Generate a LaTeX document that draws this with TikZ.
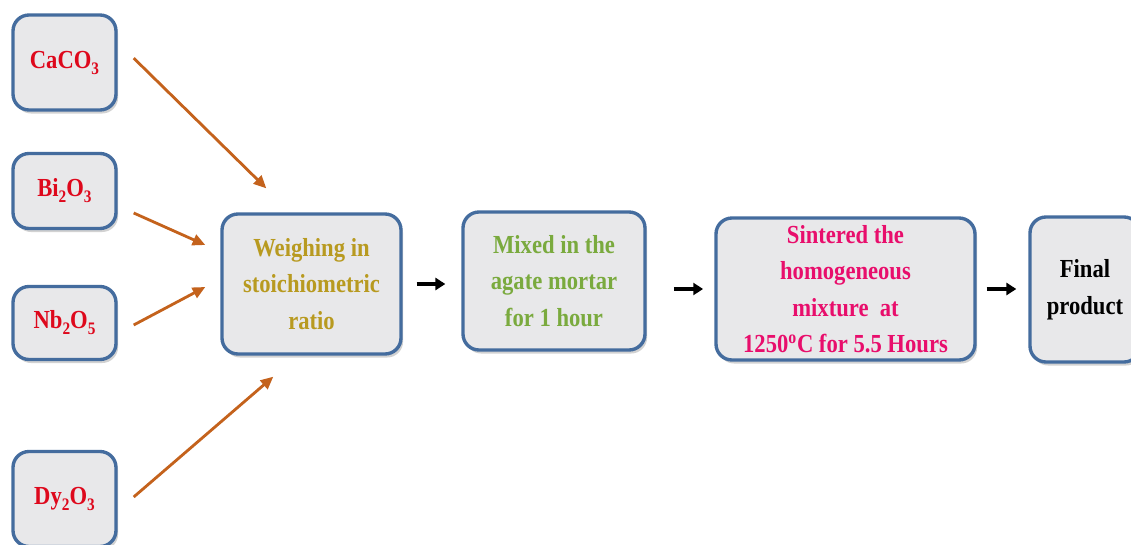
\documentclass[tikz,border=0pt]{standalone}
\usepackage{fontspec}
\setmainfont{Liberation Serif}[FakeStretch=0.87]
\usetikzlibrary{arrows.meta,shadows,calc}
\definecolor{boxline}{RGB}{68,108,158}
\definecolor{boxfill}{RGB}{232,232,234}
\definecolor{feedline}{RGB}{196,98,28}
\definecolor{oxred}{RGB}{222,8,28}
\definecolor{weighcol}{RGB}{184,154,32}
\definecolor{mixcol}{RGB}{122,170,62}
\definecolor{sintcol}{RGB}{232,14,108}
\newcommand\chsub[1]{\raisebox{-0.5ex}{\fontsize{12.5}{12.5}\selectfont #1}}
\tikzset{
  box/.style={draw=boxline,line width=2.4pt,fill=boxfill,rounded corners=0.4cm,align=center,
    font=\fontsize{18.5}{26}\selectfont\bfseries,
    drop shadow={shadow xshift=1.5pt,shadow yshift=-2.5pt,opacity=0.35}},
  feed/.style={draw=feedline,line width=2pt,-{Triangle[length=9pt,width=8pt]}},
  flow/.style={draw=black,line width=2.2pt,-{Triangle[length=7pt,width=8.5pt]}}
}
\begin{document}
\begin{tikzpicture}
  \useasboundingbox (0,0) rectangle (28.275,-13.625);
  \fill[white] (0,0) rectangle (28.275,-13.625);
  % raw oxides
  \node[box,text=oxred,minimum width=2.575cm,minimum height=2.375cm] (Ca) at (1.6125,-1.5625) {CaCO\chsub{3}};
  \node[box,text=oxred,minimum width=2.575cm,minimum height=1.875cm] (Bi) at (1.6125,-4.775) {Bi\chsub{2}O\chsub{3}};
  \node[box,text=oxred,minimum width=2.575cm,minimum height=1.825cm] (Nb) at (1.6125,-8.075) {Nb\chsub{2}O\chsub{5}};
  \node[box,text=oxred,minimum width=2.575cm,minimum height=2.375cm] (Dy) at (1.6125,-12.475) {Dy\chsub{2}O\chsub{3}};
  % process steps
  \node[box,text=weighcol,minimum width=4.475cm,minimum height=3.5cm] (Wt) at (7.7875,-7.1) {Weighing in\\stoichiometric\\ratio};
  \node[box,text=mixcol,minimum width=4.55cm,minimum height=3.45cm] (Mx) at (13.85,-7.025) {Mixed in the\\agate mortar\\for 1 hour};
  \node[box,text=sintcol,minimum width=6.475cm,minimum height=3.55cm] (St) at (21.1375,-7.225) {Sintered the\\homogeneous\\mixture~ at\\1250\textsuperscript{o}C for 5.5 Hours};
  \node[box,text=black,minimum width=2.75cm,minimum height=3.625cm] (Fp) at (27.125,-7.2375) {Final\\product};
  % feeds into weighing
  \draw[feed] ($(Ca.east)+(0.4,0.11)$) -- ($(Wt.north west)+(1.15,0.6)$);
  \draw[feed] ($(Bi.east)+(0.4,-0.55)$) -- ($(Wt.west)+(-0.375,0.975)$);
  \draw[feed] ($(Nb.east)+(0.4,-0.05)$) -- ($(Wt.west)+(-0.375,-0.075)$);
  \draw[feed] ($(Dy.east)+(0.4,0.05)$) -- ($(Wt.south west)+(1.325,-0.525)$);
  % step to step
  \draw[flow,shorten <=0.35cm,shorten >=0.4cm] (Wt.east) -- (Wt.east -| Mx.west);
  \draw[flow,shorten <=0.68cm,shorten >=0.28cm] (St.west -| Mx.east) -- (St.west);
  \draw[flow,shorten <=0.25cm,shorten >=0.3cm] (St.east) -- (St.east -| Fp.west);
\end{tikzpicture}
\end{document}
